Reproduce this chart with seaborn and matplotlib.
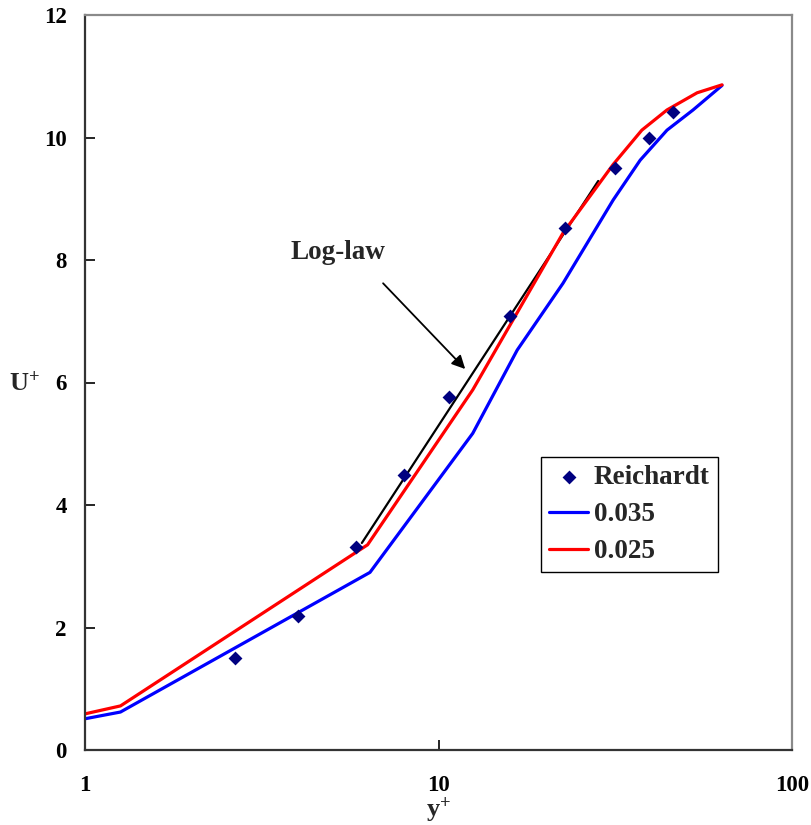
import numpy as np
import pandas as pd
import matplotlib
matplotlib.use("Agg")
import matplotlib.pyplot as plt
import seaborn as sns

# ---- data ----
reich_y = [2.66, 4.0, 5.84, 7.99, 10.7, 15.9, 22.8, 31.6, 39.4, 46.1]
reich_u = [1.50, 2.19, 3.31, 4.49, 5.76, 7.09, 8.52, 9.50, 9.99, 10.42]

blue_y = [1.0, 1.26, 6.4, 12.5, 16.7, 22.5, 31.2, 37.2, 44.3, 52.5, 63.4]
blue_u = [0.51, 0.62, 2.90, 5.17, 6.53, 7.62, 8.98, 9.63, 10.12, 10.45, 10.85]

red_y = [1.0, 1.26, 6.3, 12.5, 22.5, 31.2, 37.6, 44.3, 53.9, 63.4]
red_u = [0.59, 0.72, 3.35, 5.88, 8.44, 9.56, 10.12, 10.45, 10.73, 10.86]

loglaw_y = [6.07, 28.3]
loglaw_u = [3.38, 9.29]

series_labels = ["Reichardt", "0.035", "0.025"]
x_ticks = [1, 10, 100]
y_ticks = [0, 2, 4, 6, 8, 10, 12]

sns.set_style("white")
plt.rcParams["font.family"] = ["Liberation Serif", "DejaVu Serif"]
plt.rcParams["font.weight"] = "bold"
plt.rcParams["mathtext.fontset"] = "custom"
plt.rcParams["mathtext.rm"] = "Liberation Serif:bold"
plt.rcParams["mathtext.bf"] = "Liberation Serif:bold"
plt.rcParams["mathtext.it"] = "Liberation Serif:bold"

fig = plt.figure(figsize=(8.11, 8.25), dpi=100)
ax = fig.add_axes([85/811, 75/825, 707/811, 735/825])

df_r = pd.DataFrame({"y": reich_y, "u": reich_u})
df_b = pd.DataFrame({"y": blue_y, "u": blue_u})
df_red = pd.DataFrame({"y": red_y, "u": red_u})
df_l = pd.DataFrame({"y": loglaw_y, "u": loglaw_u})

sns.lineplot(data=df_l, x="y", y="u", ax=ax, color="black", lw=1.6,
             sort=False, estimator=None, legend=False)
sns.lineplot(data=df_b, x="y", y="u", ax=ax, color="#0000ff", lw=2.3,
             sort=False, estimator=None, label=series_labels[1])
sns.lineplot(data=df_red, x="y", y="u", ax=ax, color="#ff0000", lw=2.3,
             sort=False, estimator=None, label=series_labels[2])
sns.scatterplot(data=df_r, x="y", y="u", ax=ax, marker="D", s=50,
                color="#000080", edgecolor="#000080", linewidth=0,
                label=series_labels[0], zorder=5)

ax.set_xscale("log")
ax.set_xlim(1, 100)
ax.set_ylim(0, 12)
ax.set_xticks(x_ticks)
ax.set_xticklabels([str(t) for t in x_ticks])
ax.xaxis.set_minor_locator(matplotlib.ticker.NullLocator())
ax.set_yticks(y_ticks)
ax.set_yticklabels([str(t) for t in y_ticks])

ax.tick_params(axis="both", direction="in", length=7, width=1.2,
               labelsize=16.5, bottom=True, left=True, top=False, right=False,
               colors="black")
ax.tick_params(axis="y", pad=13)
ax.tick_params(axis="x", pad=18)
for lab in ax.get_xticklabels() + ax.get_yticklabels():
    lab.set_fontweight("bold")

for s in ["left", "bottom"]:
    ax.spines[s].set_color("#333333")
    ax.spines[s].set_linewidth(1.6)
for s in ["top", "right"]:
    ax.spines[s].set_color("#8a8a8a")
    ax.spines[s].set_linewidth(1.6)

ax.set_xlabel(r"$\mathbf{y^{+}}$", fontsize=19, labelpad=-1)
ax.set_ylabel(r"$\mathbf{U^{+}}$", fontsize=19, rotation=0, va="center", ha="center")
ax.yaxis.set_label_coords(-0.085, 0.499)

ax.text(5.2, 8.13, "Log-law", fontsize=19.5, fontweight="bold",
        ha="center", va="center")
ax.annotate("", xy=(11.9, 6.22), xytext=(6.97, 7.62),
            arrowprops=dict(arrowstyle="-|>", color="black", lw=1.3,
                            mutation_scale=20, shrinkA=0, shrinkB=0))

h, l = ax.get_legend_handles_labels()
order = [l.index(n) for n in series_labels]
leg = ax.legend([h[i] for i in order], [l[i] for i in order],
                loc="upper left", bbox_to_anchor=(0.645, 0.399),
                borderaxespad=0, frameon=True, fancybox=False,
                prop={"family": "Liberation Serif", "weight": "bold", "size": 19.5},
                handlelength=1.45, handletextpad=0.2, labelspacing=0.45,
                borderpad=0.3, framealpha=1)
leg.get_frame().set_edgecolor("black")
leg.get_frame().set_linewidth(1.0)

fig.savefig("out.png", dpi=100)
